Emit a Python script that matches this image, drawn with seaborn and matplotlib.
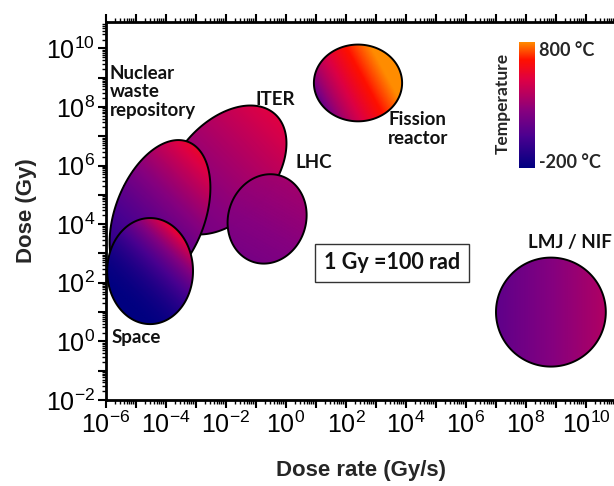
import numpy as np
import matplotlib
matplotlib.use("Agg")
import matplotlib.pyplot as plt
import seaborn as sns
from matplotlib.patches import Polygon
from matplotlib.ticker import LogLocator, FuncFormatter, NullFormatter
from matplotlib.cm import ScalarMappable
from matplotlib.colors import Normalize, LinearSegmentedColormap

# radiation environments, ellipses drawn in log10 space
sources = ['Space', 'Nuclear waste repository', 'ITER', 'LHC', 'Fission reactor', 'LMJ / NIF']
log_rate = [-4.53, -4.2, -2.03, -0.63, 2.4, 8.83]      # centre, log10(Gy/s)
log_dose = [2.40, 4.31, 5.85, 4.18, 8.82, 1.0]         # centre, log10(Gy)
half_long = [1.81, 2.67, 2.53, 1.54, 1.47, 1.86]       # decades
half_short = [1.43, 1.5, 1.62, 1.3, 1.31, 1.83]        # decades
tilt = [90, 70, 50, 75, 0, 90]                          # degrees
temp_low = [-200, -60, 190, 200, 80, 120]               # degC, lower-left side
temp_high = [560, 560, 510, 330, 880, 370]              # degC, upper-right side
grad_dir = [45, 45, 45, 60, 28, 0]                      # gradient direction, degrees
grad_gamma = [2.2, 1.5, 1.3, 1.0, 0.6, 1.0]             # shape of the colour ramp
layer = [4, 3, 1, 2, 1, 1]

sns.set_theme(style="ticks")
plt.rcParams['font.family'] = ['Liberation Sans', 'DejaVu Sans']
plt.rcParams['mathtext.default'] = 'regular'
plt.rcParams['axes.unicode_minus'] = False

cmap = LinearSegmentedColormap.from_list('temp', [
    (0.0, '#000080'), (0.25, '#4a0090'), (0.45, '#86007f'), (0.7, '#de0045'),
    (0.86, '#ff1000'), (1.0, '#ff8c00')])
norm = Normalize(-200, 800)

fig = plt.figure(figsize=(6.14, 4.86), dpi=100)
ax = fig.add_axes([106 / 614, 1 - 400 / 486, 510 / 614, 378 / 486])
ax.set_xscale('log')
ax.set_yscale('log')
ax.set_xlim(1e-6, 1e11)
ax.set_ylim(1e-2, 10 ** 10.9)

t = np.linspace(0, 2 * np.pi, 300)
for i in range(len(sources)):
    cx, cy = log_rate[i], log_dose[i]
    a, b = half_long[i], half_short[i]
    th = np.radians(tilt[i])
    ex = cx + a * np.cos(th) * np.cos(t) - b * np.sin(th) * np.sin(t)
    ey = cy + a * np.sin(th) * np.cos(t) + b * np.cos(th) * np.sin(t)
    poly = Polygon(np.column_stack([10 ** ex, 10 ** ey]), closed=True, facecolor='none',
                   edgecolor='black', lw=1.4, zorder=layer[i] + 0.5)
    ax.add_patch(poly)

    phi = np.radians(grad_dir[i])
    proj = (ex - cx) * np.cos(phi) + (ey - cy) * np.sin(phi)
    R = max(a, b) * 1.05
    gx = np.linspace(cx - R, cx + R, 160)
    gy = np.linspace(cy - R, cy + R, 160)
    GX, GY = np.meshgrid(gx, gy)
    s = ((GX - cx) * np.cos(phi) + (GY - cy) * np.sin(phi) - proj.min()) / (proj.max() - proj.min())
    s = np.clip(s, 0, 1) ** grad_gamma[i]
    C = temp_low[i] + (temp_high[i] - temp_low[i]) * s
    mesh = ax.pcolormesh(10 ** gx, 10 ** gy, C, cmap=cmap, norm=norm, shading='gouraud',
                         zorder=layer[i], rasterized=True)
    mesh.set_clip_path(poly)

# ticks: major every decade, labels every second decade
for axis in [ax.xaxis, ax.yaxis]:
    axis.set_major_locator(LogLocator(base=10, numticks=40))
    axis.set_minor_locator(LogLocator(base=10, subs=np.arange(2, 10), numticks=40))
    axis.set_major_formatter(FuncFormatter(
        lambda v, p: r'$10^{%d}$' % round(np.log10(v)) if round(np.log10(v)) % 2 == 0 else ''))
    axis.set_minor_formatter(NullFormatter())
ax.tick_params(which='both', direction='out', top=True, right=False, labelsize=18, colors='black')
ax.tick_params(which='major', length=6, width=1.5, pad=2)
ax.tick_params(which='minor', length=3, width=1)
for sp in ['left', 'bottom', 'top']:
    ax.spines[sp].set_linewidth(2)
    ax.spines[sp].set_color('black')
ax.spines['right'].set_visible(False)

ax.set_xlabel('Dose rate (Gy/s)', fontsize=16, fontweight='bold', labelpad=16)
ax.set_ylabel('Dose (Gy)', fontsize=16, fontweight='bold', labelpad=6)

lab = dict(fontsize=13.5, fontweight='bold', family=['Lato', 'DejaVu Sans'], color='#111111', zorder=6)
ax.text(10 ** -5.87, 10 ** 9.43, 'Nuclear\nwaste\nrepository', ha='left', va='top', linespacing=1.1, **lab)
ax.text(10 ** -1.03, 10 ** 8.24, 'ITER', ha='left', va='center', **lab)
ax.text(10 ** 0.33, 10 ** 6.09, 'LHC', ha='left', va='center', **lab)
ax.text(10 ** 3.4, 10 ** 7.25, 'Fission\nreactor', ha='left', va='center', linespacing=1.1, **lab)
ax.text(10 ** -5.83, 10 ** 0.15, 'Space', ha='left', va='center', **lab)
ax.text(10 ** 9.47, 10 ** 3.36, 'LMJ / NIF', ha='center', va='center', **lab)
ax.text(10 ** 3.53, 10 ** 2.68, '1 Gy =100 rad', ha='center', va='center', fontsize=15.5,
        fontweight='bold', family=['Lato', 'DejaVu Sans'], color='#111111', zorder=6,
        bbox=dict(boxstyle='square,pad=0.4', facecolor='white', edgecolor='#333333', lw=1))

# temperature colour bar
cax = fig.add_axes([519 / 614, 1 - 168 / 486, 16 / 614, 126 / 486])
cb = fig.colorbar(ScalarMappable(norm=norm, cmap=cmap), cax=cax)
cb.set_ticks([])
cb.outline.set_visible(False)
fig.text(539 / 614, 1 - 50 / 486, '800 °C', ha='left', va='center', fontsize=13,
         fontweight='bold', family=['Lato', 'DejaVu Sans'])
fig.text(539 / 614, 1 - 162 / 486, '-200 °C', ha='left', va='center', fontsize=13,
         fontweight='bold', family=['Lato', 'DejaVu Sans'])
fig.text(503 / 614, 1 - 103 / 486, 'Temperature', ha='center', va='center', rotation=90,
         fontsize=12.5, fontweight='bold', family=['Lato', 'DejaVu Sans'])

fig.savefig('out.png', dpi=100)
